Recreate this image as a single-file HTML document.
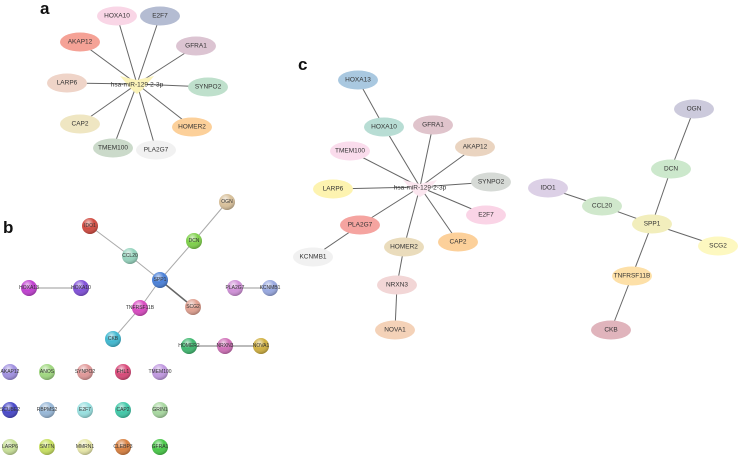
<!DOCTYPE html>
<html><head><meta charset="utf-8"><style>
html,body{margin:0;padding:0;background:#fff}
svg{display:block}
text{font-family:"Liberation Sans",sans-serif;}
.l{font-size:6.5px;fill:#333;text-anchor:middle;dominant-baseline:central}
.s{font-size:5px;fill:#333;text-anchor:middle;dominant-baseline:central}
.e{stroke:#666;stroke-width:1}
.h{font-size:17px;font-weight:bold;fill:#111}
</style></head><body>
<svg width="741" height="460" viewBox="0 0 741 460" xmlns="http://www.w3.org/2000/svg">
<defs>
<radialGradient id="g" cx="40%" cy="30%" r="70%"><stop offset="0" stop-color="#fff" stop-opacity="0.7"/><stop offset="0.5" stop-color="#fff" stop-opacity="0"/><stop offset="1" stop-color="#000" stop-opacity="0.25"/></radialGradient>
</defs>
<text class="h" x="40" y="14">a</text>
<text class="h" x="3" y="233">b</text>
<text class="h" x="298" y="70">c</text>

<!-- panel a -->
<g class="e">
<line x1="137" y1="84" x2="117" y2="16"/><line x1="137" y1="84" x2="160" y2="16"/>
<line x1="137" y1="84" x2="80" y2="42"/><line x1="137" y1="84" x2="196" y2="46"/>
<line x1="137" y1="84" x2="67" y2="83"/><line x1="137" y1="84" x2="208" y2="87"/>
<line x1="137" y1="84" x2="80" y2="124"/><line x1="137" y1="84" x2="192" y2="127"/>
<line x1="137" y1="84" x2="113" y2="148"/><line x1="137" y1="84" x2="156" y2="150"/>
</g>
<polygon points="120,76 137,80 154,76 142,90 137,94 132,90" fill="#fbf3b8"/>
<g>
<ellipse cx="117" cy="16" rx="20" ry="9.5" fill="#f9d6e6"/><text class="l" x="117" y="16">HOXA10</text>
<ellipse cx="160" cy="16" rx="20" ry="9.5" fill="#b4bcd2"/><text class="l" x="160" y="16">E2F7</text>
<ellipse cx="80" cy="42" rx="20" ry="9.5" fill="#f5a296"/><text class="l" x="80" y="42">AKAP12</text>
<ellipse cx="196" cy="46" rx="20" ry="9.5" fill="#dcc4d2"/><text class="l" x="196" y="46">GFRA1</text>
<ellipse cx="67" cy="83" rx="20" ry="9.5" fill="#efd4c8"/><text class="l" x="67" y="83">LARP6</text>
<ellipse cx="208" cy="87" rx="20" ry="9.5" fill="#bfe0cc"/><text class="l" x="208" y="87">SYNPO2</text>
<ellipse cx="80" cy="124" rx="20" ry="9.5" fill="#efe6c2"/><text class="l" x="80" y="124">CAP2</text>
<ellipse cx="192" cy="127" rx="20" ry="9.5" fill="#fcd09a"/><text class="l" x="192" y="127">HOMER2</text>
<ellipse cx="113" cy="148" rx="20" ry="9.5" fill="#cbdaca"/><text class="l" x="113" y="148">TMEM100</text>
<ellipse cx="156" cy="150" rx="20" ry="9.5" fill="#f1f1f1"/><text class="l" x="156" y="150">PLA2G7</text>
<text class="l" x="137" y="85">hsa-miR-129-2-3p</text>
</g>

<!-- panel c -->
<g class="e">
<line x1="420" y1="187" x2="384" y2="127"/><line x1="420" y1="187" x2="433" y2="125"/>
<line x1="420" y1="187" x2="350" y2="151"/><line x1="420" y1="187" x2="475" y2="147"/>
<line x1="420" y1="187" x2="333" y2="189"/><line x1="420" y1="187" x2="491" y2="182"/>
<line x1="420" y1="187" x2="486" y2="215"/><line x1="420" y1="187" x2="360" y2="225"/>
<line x1="420" y1="187" x2="458" y2="242"/><line x1="420" y1="187" x2="404" y2="247"/>
<line x1="358" y1="80" x2="384" y2="127"/><line x1="360" y1="225" x2="313" y2="257"/>
<line x1="404" y1="247" x2="397" y2="285"/><line x1="397" y1="285" x2="395" y2="330"/>
<line x1="694" y1="109" x2="671" y2="169"/><line x1="671" y1="169" x2="652" y2="224"/>
<line x1="548" y1="188" x2="602" y2="206"/><line x1="602" y1="206" x2="652" y2="224"/>
<line x1="652" y1="224" x2="718" y2="246"/><line x1="652" y1="224" x2="632" y2="276"/>
<line x1="632" y1="276" x2="611" y2="330"/>
</g>
<polygon points="403,180 420,184 437,180 425,194 420,197 415,194" fill="#fbe6ef"/>
<g>
<ellipse cx="358" cy="80" rx="20" ry="9.5" fill="#a9c8e0"/><text class="l" x="358" y="80">HOXA13</text>
<ellipse cx="384" cy="127" rx="20" ry="9.5" fill="#b8ddd4"/><text class="l" x="384" y="127">HOXA10</text>
<ellipse cx="433" cy="125" rx="20" ry="9.5" fill="#e0c4cc"/><text class="l" x="433" y="125">GFRA1</text>
<ellipse cx="350" cy="151" rx="20" ry="9.5" fill="#fadcec"/><text class="l" x="350" y="151">TMEM100</text>
<ellipse cx="475" cy="147" rx="20" ry="9.5" fill="#ead4c0"/><text class="l" x="475" y="147">AKAP12</text>
<ellipse cx="333" cy="189" rx="20" ry="9.5" fill="#fdf3b0"/><text class="l" x="333" y="189">LARP6</text>
<ellipse cx="491" cy="182" rx="20" ry="9.5" fill="#d6dad6"/><text class="l" x="491" y="182">SYNPO2</text>
<ellipse cx="486" cy="215" rx="20" ry="9.5" fill="#fad4e6"/><text class="l" x="486" y="215">E2F7</text>
<ellipse cx="360" cy="225" rx="20" ry="9.5" fill="#f5a4a0"/><text class="l" x="360" y="225">PLA2G7</text>
<ellipse cx="458" cy="242" rx="20" ry="9.5" fill="#fcd09a"/><text class="l" x="458" y="242">CAP2</text>
<ellipse cx="404" cy="247" rx="20" ry="9.5" fill="#eadcbc"/><text class="l" x="404" y="247">HOMER2</text>
<ellipse cx="313" cy="257" rx="20" ry="9.5" fill="#f1f1f1"/><text class="l" x="313" y="257">KCNMB1</text>
<ellipse cx="397" cy="285" rx="20" ry="9.5" fill="#f2d6d6"/><text class="l" x="397" y="285">NRXN3</text>
<ellipse cx="395" cy="330" rx="20" ry="9.5" fill="#f4d2b8"/><text class="l" x="395" y="330">NOVA1</text>
<text class="l" x="420" y="188">hsa-miR-129-2-3p</text>
<ellipse cx="694" cy="109" rx="20" ry="9.5" fill="#cccadc"/><text class="l" x="694" y="109">OGN</text>
<ellipse cx="671" cy="169" rx="20" ry="9.5" fill="#cce8cc"/><text class="l" x="671" y="169">DCN</text>
<ellipse cx="548" cy="188" rx="20" ry="9.5" fill="#dcd0e6"/><text class="l" x="548" y="188">IDO1</text>
<ellipse cx="602" cy="206" rx="20" ry="9.5" fill="#d0e8cc"/><text class="l" x="602" y="206">CCL20</text>
<ellipse cx="652" cy="224" rx="20" ry="9.5" fill="#f2eebc"/><text class="l" x="652" y="224">SPP1</text>
<ellipse cx="718" cy="246" rx="20" ry="9.5" fill="#fdf8c0"/><text class="l" x="718" y="246">SCG2</text>
<ellipse cx="632" cy="276" rx="20" ry="9.5" fill="#fde0a8"/><text class="l" x="632" y="276">TNFRSF11B</text>
<ellipse cx="611" cy="330" rx="20" ry="9.5" fill="#e0b4bc"/><text class="l" x="611" y="330">CKB</text>
</g>

<!-- panel b -->
<g stroke="#aaa" stroke-width="1">
<line x1="227" y1="202" x2="194" y2="241"/><line x1="194" y1="241" x2="160" y2="280"/>
<line x1="90" y1="226" x2="130" y2="256"/><line x1="130" y1="256" x2="160" y2="280"/>
<line x1="160" y1="280" x2="140" y2="308"/><line x1="140" y1="308" x2="113" y2="339"/>
<line x1="29" y1="288" x2="81" y2="288" stroke="#ccc" stroke-width="2"/>
<line x1="235" y1="288" x2="270" y2="288" stroke="#ccc" stroke-width="2"/>
<line x1="189" y1="346" x2="261" y2="346" stroke="#bbb" stroke-width="2"/>
</g>
<line x1="160" y1="280" x2="193" y2="307" stroke="#666" stroke-width="1.5"/>
<g id="bn">
<circle cx="227" cy="202" r="8" fill="#d8c09a"/><circle cx="194" cy="241" r="8" fill="#7ed04a"/>
<circle cx="90" cy="226" r="8" fill="#d04a40"/><circle cx="130" cy="256" r="8" fill="#96d4be"/>
<circle cx="160" cy="280" r="8" fill="#4a80d8"/><circle cx="140" cy="308" r="8" fill="#d84ac0"/>
<circle cx="193" cy="307" r="8" fill="#e0a090"/><circle cx="113" cy="339" r="8" fill="#40b8d0"/>
<circle cx="29" cy="288" r="8" fill="#c040d0"/><circle cx="81" cy="288" r="8" fill="#8050d8"/>
<circle cx="235" cy="288" r="8" fill="#d090d8"/><circle cx="270" cy="288" r="8" fill="#98a8e0"/>
<circle cx="189" cy="346" r="8" fill="#40b870"/><circle cx="225" cy="346" r="8" fill="#d070b8"/>
<circle cx="261" cy="346" r="8" fill="#d0b040"/>
<circle cx="10" cy="372" r="8" fill="#a090e0"/><circle cx="47" cy="372" r="8" fill="#a0d880"/>
<circle cx="85" cy="372" r="8" fill="#e09898"/><circle cx="123" cy="372" r="8" fill="#d84878"/>
<circle cx="160" cy="372" r="8" fill="#c098e0"/>
<circle cx="10" cy="410" r="8" fill="#4848c8"/><circle cx="47" cy="410" r="8" fill="#98b8d8"/>
<circle cx="85" cy="410" r="8" fill="#98e0e0"/><circle cx="123" cy="410" r="8" fill="#40c8a8"/>
<circle cx="160" cy="410" r="8" fill="#a8d8a0"/>
<circle cx="10" cy="447" r="8" fill="#c8e098"/><circle cx="47" cy="447" r="8" fill="#c8e060"/>
<circle cx="85" cy="447" r="8" fill="#e8e8a8"/><circle cx="123" cy="447" r="8" fill="#d88040"/>
<circle cx="160" cy="447" r="8" fill="#48c848"/>
</g>
<g fill="url(#g)">
<circle cx="227" cy="202" r="8"/><circle cx="194" cy="241" r="8"/><circle cx="90" cy="226" r="8"/><circle cx="130" cy="256" r="8"/>
<circle cx="160" cy="280" r="8"/><circle cx="140" cy="308" r="8"/><circle cx="193" cy="307" r="8"/><circle cx="113" cy="339" r="8"/>
<circle cx="29" cy="288" r="8"/><circle cx="81" cy="288" r="8"/><circle cx="235" cy="288" r="8"/><circle cx="270" cy="288" r="8"/>
<circle cx="189" cy="346" r="8"/><circle cx="225" cy="346" r="8"/><circle cx="261" cy="346" r="8"/>
<circle cx="10" cy="372" r="8"/><circle cx="47" cy="372" r="8"/><circle cx="85" cy="372" r="8"/><circle cx="123" cy="372" r="8"/><circle cx="160" cy="372" r="8"/>
<circle cx="10" cy="410" r="8"/><circle cx="47" cy="410" r="8"/><circle cx="85" cy="410" r="8"/><circle cx="123" cy="410" r="8"/><circle cx="160" cy="410" r="8"/>
<circle cx="10" cy="447" r="8"/><circle cx="47" cy="447" r="8"/><circle cx="85" cy="447" r="8"/><circle cx="123" cy="447" r="8"/><circle cx="160" cy="447" r="8"/>
</g>
<g>
<text class="s" x="227" y="202">OGN</text><text class="s" x="194" y="241">DCN</text><text class="s" x="90" y="226">IDO1</text>
<text class="s" x="130" y="256">CCL20</text><text class="s" x="160" y="280">SPP1</text><text class="s" x="140" y="308">TNFRSF11B</text>
<text class="s" x="193" y="307">SCG2</text><text class="s" x="113" y="339">CKB</text><text class="s" x="29" y="288">HOXA13</text>
<text class="s" x="81" y="288">HOXA10</text><text class="s" x="235" y="288">PLA2G7</text><text class="s" x="270" y="288">KCNMB1</text>
<text class="s" x="189" y="346">HOMER2</text><text class="s" x="225" y="346">NRXN3</text><text class="s" x="261" y="346">NOVA1</text>
<text class="s" x="10" y="372">AKAP12</text><text class="s" x="47" y="372">ANOS</text><text class="s" x="85" y="372">SYNPO2</text>
<text class="s" x="123" y="372">FHL1</text><text class="s" x="160" y="372">TMEM100</text>
<text class="s" x="10" y="410">SCUBE2</text><text class="s" x="47" y="410">RBPMS2</text><text class="s" x="85" y="410">E2F7</text>
<text class="s" x="123" y="410">CAP2</text><text class="s" x="160" y="410">GRIN1</text>
<text class="s" x="10" y="447">LARP6</text><text class="s" x="47" y="447">SMTN</text><text class="s" x="85" y="447">MMRN1</text>
<text class="s" x="123" y="447">CLEBP3</text><text class="s" x="160" y="447">GFRA1</text>
</g>
</svg>
</body></html>
